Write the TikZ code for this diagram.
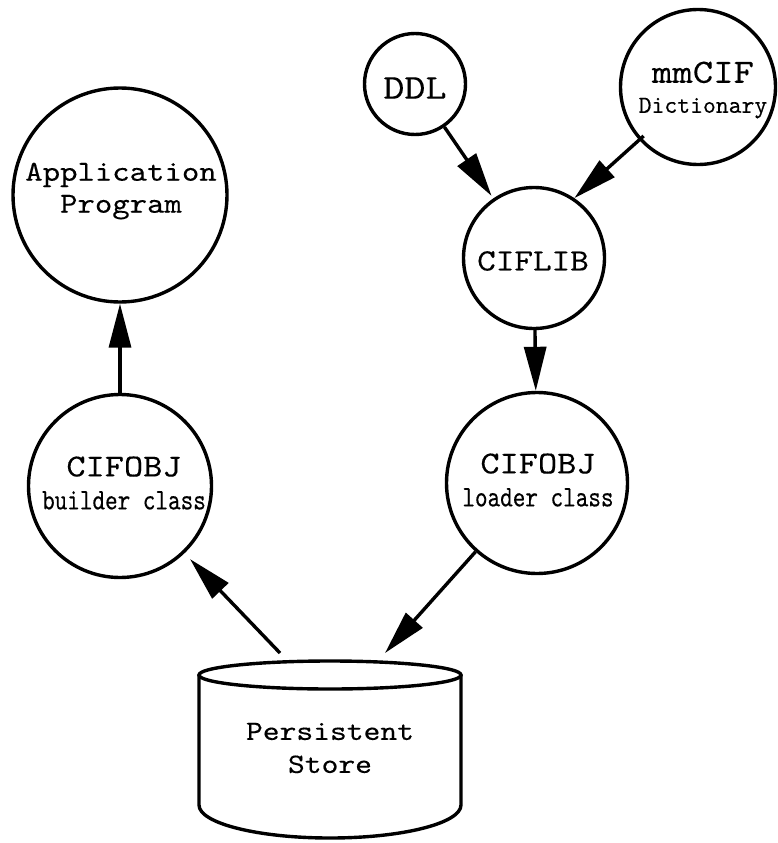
\documentclass[tikz,border=0pt]{standalone}
\usepackage{fontspec}
\usetikzlibrary{arrows.meta}
% Courier-like typewriter faces: widened, plain and condensed
\newfontfamily\cour{lmmono10-regular.otf}[FakeStretch=1.143, FakeBold=0.25]
\newfontfamily\courp{lmmono10-regular.otf}[FakeBold=0.25]
\newfontfamily\courn{lmmono10-regular.otf}[FakeStretch=0.8, FakeBold=0.25]
\newcommand{\fs}[2]{\fontsize{#1}{#2}\selectfont}
\tikzset{
  proc/.style={circle, draw, line width=3.4pt, inner sep=0pt},
  txt/.style={inner sep=0pt, align=center, font=\cour},
  flow/.style={line width=3.4pt, -{Triangle[length=44pt,width=22pt]}}
}
\begin{document}
\begin{tikzpicture}[x=1pt, y=-1pt]
  \useasboundingbox (0,0) rectangle (778,843);

  % process circles
  \node[proc, minimum size=214pt] (app)     at (120,195) {};
  \node[proc, minimum size=101pt] (ddl)     at (415,84)  {};
  \node[proc, minimum size=155pt] (mm)      at (698,87)  {};
  \node[proc, minimum size=141pt] (ciflib)  at (534,258) {};
  \node[proc, minimum size=181pt] (loader)  at (537,483) {};
  \node[proc, minimum size=183pt] (builder) at (120,486) {};

  % labels
  \node[txt, font=\cour\fs{29}{32}] (apptxt) at (121,191) {Application\\Program};
  \node[txt, font=\cour\fs{35}{35}] (ddltxt) at (415,88) {DDL};
  \node[txt, font=\courp\fs{24.5}{30}] (mmtxt) at (703,90) {{\cour\fs{34}{34}mmCIF}\\Dictionary};
  \node[txt, font=\cour\fs{31}{31}] (ciflibtxt) at (533,261) {CIFLIB};
  \node[txt, font=\courn\fs{30}{33}] (loadertxt) at (538,480) {{\cour\fs{32}{32}CIFOBJ}\\loader class};
  \node[txt, font=\courn\fs{30}{33}] (buildertxt) at (124,483) {{\cour\fs{32}{32}CIFOBJ}\\builder class};

  % persistent store drum
  \draw[line width=3.4pt] (330,675) ellipse [x radius=131pt, y radius=14pt];
  \draw[line width=3.4pt] (199,675) -- (199,805)
    arc[start angle=180, end angle=360, x radius=131pt, y radius=33pt] -- (461,675);
  \node[txt, font=\cour\fs{28}{33}] (store) at (330,748) {Persistent\\Store};
  \coordinate (sL) at (280,653);
  \coordinate (sR) at (385,653);

  % data flow
  \draw[flow] (builder.north) -- (app.south);
  \draw[flow, shorten >=3pt] (ddl) -- (ciflib);
  \draw[flow, shorten <=-6pt] (mm.222) -- (ciflib.56);
  \draw[flow] (ciflib) -- (loader);
  \draw[flow] (loader) -- (sR);
  \draw[flow, shorten >=8pt] (sL) -- (builder);
\end{tikzpicture}
\end{document}
